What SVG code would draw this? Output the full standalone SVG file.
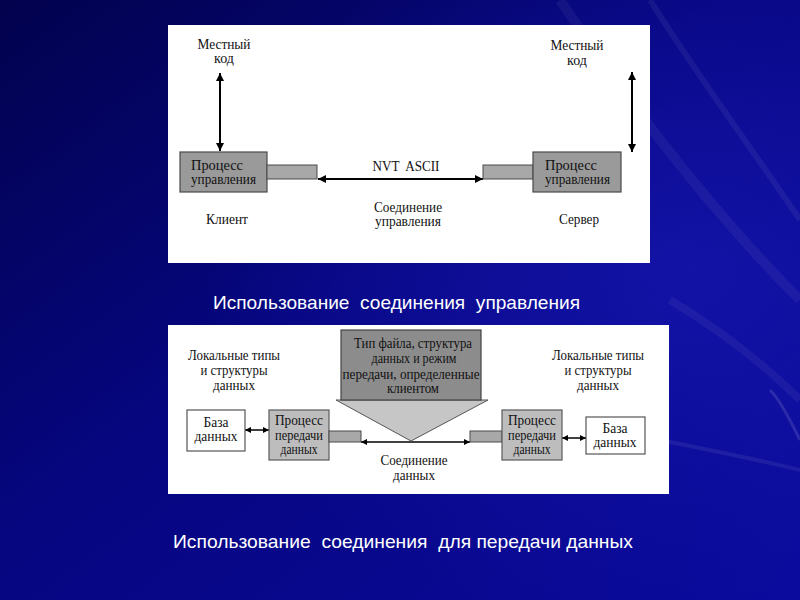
<svg xmlns="http://www.w3.org/2000/svg" width="800" height="600" viewBox="0 0 800 600">
<defs>
  <linearGradient id="bg" x1="0" y1="0" x2="1" y2="1">
    <stop offset="0" stop-color="#02024e"/>
    <stop offset="0.45" stop-color="#060680"/>
    <stop offset="1" stop-color="#0a0a9c"/>
  </linearGradient>
  <radialGradient id="glow" cx="0.85" cy="0.45" r="0.6">
    <stop offset="0" stop-color="#1a1ab8" stop-opacity="0.6"/>
    <stop offset="1" stop-color="#1a1ab8" stop-opacity="0"/>
  </radialGradient>
  <marker id="ah" viewBox="0 0 10 10" refX="10" refY="5" markerWidth="9" markerHeight="8" markerUnits="userSpaceOnUse" orient="auto-start-reverse">
    <path d="M0,0 L10,5 L0,10 z" fill="#000"/>
  </marker>
  <marker id="ahs" viewBox="0 0 10 10" refX="10" refY="5" markerWidth="7" markerHeight="6" markerUnits="userSpaceOnUse" orient="auto-start-reverse">
    <path d="M0,0 L10,5 L0,10 z" fill="#000"/>
  </marker>
</defs>
<style>
  .t { font-family: "Liberation Serif", "Times New Roman", serif; font-size: 14px; fill: #111; }
  .b { font-family: "Liberation Serif", "Times New Roman", serif; font-size: 14px; fill: #111; }
  .m { text-anchor: middle; }
  .cap { font-family: "Liberation Sans", Arial, sans-serif; font-size: 19px; fill: #ffffff; white-space: pre; }
  .proc { fill: #9a9a9a; stroke: #4a4a4a; stroke-width: 1.2; }
  .proc2 { fill: #bdbdbd; stroke: #5a5a5a; stroke-width: 1.2; }
  .stub { fill: #a8a8a8; stroke: #4a4a4a; stroke-width: 1; }
  .db { fill: #ffffff; stroke: #555; stroke-width: 1.2; }
  .ln { stroke: #000; stroke-width: 2; fill: none; }
  .ln2 { stroke: #000; stroke-width: 1.5; fill: none; }
</style>

<!-- background -->
<rect x="0" y="0" width="800" height="600" fill="url(#bg)"/>
<rect x="0" y="0" width="800" height="600" fill="url(#glow)"/>
<g fill="none" stroke="#ffffff">
  <path d="M560,0 C640,120 720,220 800,300" stroke-opacity="0.05" stroke-width="10"/>
  <path d="M650,0 C700,80 760,160 800,220" stroke-opacity="0.06" stroke-width="6"/>
  <path d="M670,300 C720,330 760,360 800,400" stroke-opacity="0.05" stroke-width="8"/>
  <path d="M770,390 C780,400 790,420 800,440" stroke-opacity="0.12" stroke-width="3"/>
  <path d="M660,440 C710,450 760,460 800,470" stroke-opacity="0.07" stroke-width="4"/>
</g>

<!-- top panel -->
<rect x="168" y="25" width="482" height="238" fill="#ffffff"/>

<g id="connectors-top">
  <line class="ln" x1="220" y1="73" x2="220" y2="151" marker-start="url(#ah)" marker-end="url(#ah)"/>
  <line class="ln" x1="632" y1="72" x2="632" y2="152" marker-start="url(#ah)" marker-end="url(#ah)"/>
  <line class="ln" x1="318" y1="179" x2="483" y2="179" marker-start="url(#ah)" marker-end="url(#ah)"/>
</g>

<g id="client-proc">
  <rect class="proc" x="180" y="152" width="87" height="40"/>
  <rect class="stub" x="267" y="165" width="50" height="14"/>
  <text class="t" x="191" y="170" textLength="52" lengthAdjust="spacingAndGlyphs">Процесс</text>
  <text class="t" x="191" y="184" textLength="65" lengthAdjust="spacingAndGlyphs">управления</text>
</g>
<g id="server-proc">
  <rect class="stub" x="483" y="165" width="50" height="14"/>
  <rect class="proc" x="533" y="152" width="88" height="40"/>
  <text class="t" x="545" y="170" textLength="52" lengthAdjust="spacingAndGlyphs">Процесс</text>
  <text class="t" x="545" y="184" textLength="65" lengthAdjust="spacingAndGlyphs">управления</text>
</g>
<g id="top-labels">
  <text class="t m" x="224" y="49" textLength="53" lengthAdjust="spacingAndGlyphs">Местный</text>
  <text class="t m" x="224" y="63">код</text>
  <text class="t m" x="577" y="50" textLength="53" lengthAdjust="spacingAndGlyphs">Местный</text>
  <text class="t m" x="577" y="65">код</text>
  <text class="t m" x="406" y="171" textLength="67" lengthAdjust="spacingAndGlyphs" xml:space="preserve">NVT  ASCII</text>
  <text class="t m" x="408" y="212" textLength="68" lengthAdjust="spacingAndGlyphs">Соединение</text>
  <text class="t m" x="408" y="226" textLength="66" lengthAdjust="spacingAndGlyphs">управления</text>
  <text class="t m" x="227" y="224" textLength="42" lengthAdjust="spacingAndGlyphs">Клиент</text>
  <text class="t m" x="579" y="224" textLength="40" lengthAdjust="spacingAndGlyphs">Сервер</text>
</g>

<text class="cap" x="213" y="309" textLength="367" lengthAdjust="spacingAndGlyphs" xml:space="preserve">Использование  соединения  управления</text>

<!-- bottom panel -->
<rect x="168" y="325" width="501" height="169" fill="#ffffff"/>

<g id="connectors-bottom">
  <line class="ln2" x1="361" y1="442" x2="470" y2="442" marker-start="url(#ahs)" marker-end="url(#ahs)"/>
  <line class="ln2" x1="245" y1="430" x2="269" y2="430" marker-start="url(#ahs)" marker-end="url(#ahs)"/>
  <line class="ln2" x1="562" y1="438" x2="586" y2="438" marker-start="url(#ahs)" marker-end="url(#ahs)"/>
</g>

<g id="client-info">
  <polygon points="336,400 488,400 411,441" fill="#c6c6c6" stroke="#555" stroke-width="1"/>
  <rect x="341" y="330" width="140" height="70" fill="#8c8c8c" stroke="#444" stroke-width="1.2"/>
  <text class="b m" x="413" y="348" textLength="118" lengthAdjust="spacingAndGlyphs">Тип файла, структура</text>
  <text class="b m" x="414" y="363" textLength="85" lengthAdjust="spacingAndGlyphs">данных и режим</text>
  <text class="b m" x="411" y="379" textLength="137" lengthAdjust="spacingAndGlyphs">передачи, определенные</text>
  <text class="b m" x="413" y="393" textLength="52" lengthAdjust="spacingAndGlyphs">клиентом</text>
</g>

<g id="left-db">
  <rect class="db" x="187" y="410" width="58" height="41"/>
  <text class="b m" x="216" y="427" textLength="25" lengthAdjust="spacingAndGlyphs">База</text>
  <text class="b m" x="216" y="441" textLength="43" lengthAdjust="spacingAndGlyphs">данных</text>
</g>
<g id="left-dtp">
  <rect class="proc2" x="269" y="410" width="60" height="50"/>
  <rect class="stub" x="329" y="431" width="32" height="11"/>
  <text class="b m" x="299" y="425" textLength="48" lengthAdjust="spacingAndGlyphs">Процесс</text>
  <text class="b m" x="299" y="440" textLength="48" lengthAdjust="spacingAndGlyphs">передачи</text>
  <text class="b m" x="299" y="454" textLength="37" lengthAdjust="spacingAndGlyphs">данных</text>
</g>
<g id="right-dtp">
  <rect class="stub" x="470" y="431" width="32" height="11"/>
  <rect class="proc2" x="502" y="410" width="60" height="50"/>
  <text class="b m" x="532" y="425" textLength="48" lengthAdjust="spacingAndGlyphs">Процесс</text>
  <text class="b m" x="532" y="440" textLength="48" lengthAdjust="spacingAndGlyphs">передачи</text>
  <text class="b m" x="532" y="454" textLength="37" lengthAdjust="spacingAndGlyphs">данных</text>
</g>
<g id="right-db">
  <rect class="db" x="586" y="417" width="59" height="37"/>
  <text class="b m" x="615" y="433" textLength="25" lengthAdjust="spacingAndGlyphs">База</text>
  <text class="b m" x="615" y="447" textLength="43" lengthAdjust="spacingAndGlyphs">данных</text>
</g>
<g id="bottom-labels">
  <text class="b m" x="234" y="360" textLength="92" lengthAdjust="spacingAndGlyphs">Локальные типы</text>
  <text class="b m" x="234" y="375" textLength="67" lengthAdjust="spacingAndGlyphs">и структуры</text>
  <text class="b m" x="234" y="390" textLength="42" lengthAdjust="spacingAndGlyphs">данных</text>
  <text class="b m" x="598" y="360" textLength="92" lengthAdjust="spacingAndGlyphs">Локальные типы</text>
  <text class="b m" x="598" y="375" textLength="67" lengthAdjust="spacingAndGlyphs">и структуры</text>
  <text class="b m" x="598" y="390" textLength="42" lengthAdjust="spacingAndGlyphs">данных</text>
  <text class="b m" x="414" y="465" textLength="67" lengthAdjust="spacingAndGlyphs">Соединение</text>
  <text class="b m" x="414" y="480" textLength="42" lengthAdjust="spacingAndGlyphs">данных</text>
</g>

<text class="cap" x="173" y="548" textLength="460" lengthAdjust="spacingAndGlyphs" xml:space="preserve">Использование  соединения  для передачи данных</text>
</svg>
